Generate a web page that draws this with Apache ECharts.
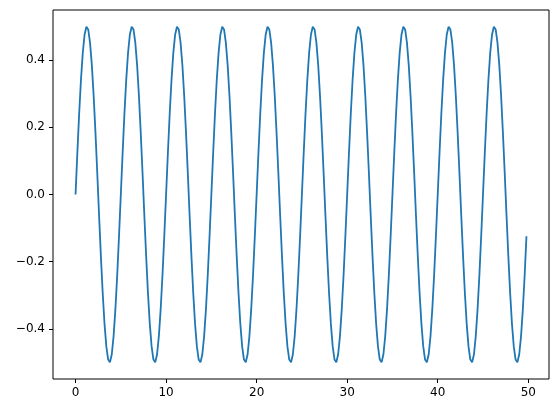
<!DOCTYPE html>
<html>
<head>
  <meta charset="utf-8">
  <title>sine</title>
  <script src="https://cdn.jsdelivr.net/npm/echarts@6/dist/echarts.min.js"></script>
  <style>
    html, body { margin: 0; padding: 0; background: #ffffff; }
    #chart { width: 559px; height: 413px; }
  </style>
</head>
<body>
<div id="chart"></div>
<script>
  // x positions (0 .. 49.8, step 0.2)
  var xs = [
    0, 0.2, 0.4, 0.6, 0.8, 1, 1.2, 1.4, 1.6, 1.8, 2, 2.2, 2.4, 2.6, 2.8, 3, 3.2, 3.4, 3.6, 3.8, 4, 4.2, 4.4, 4.6, 4.8,
    5, 5.2, 5.4, 5.6, 5.8, 6, 6.2, 6.4, 6.6, 6.8, 7, 7.2, 7.4, 7.6, 7.8, 8, 8.2, 8.4, 8.6, 8.8, 9, 9.2, 9.4, 9.6, 9.8,
    10, 10.2, 10.4, 10.6, 10.8, 11, 11.2, 11.4, 11.6, 11.8, 12, 12.2, 12.4, 12.6, 12.8, 13, 13.2, 13.4, 13.6, 13.8, 14, 14.2, 14.4, 14.6, 14.8,
    15, 15.2, 15.4, 15.6, 15.8, 16, 16.2, 16.4, 16.6, 16.8, 17, 17.2, 17.4, 17.6, 17.8, 18, 18.2, 18.4, 18.6, 18.8, 19, 19.2, 19.4, 19.6, 19.8,
    20, 20.2, 20.4, 20.6, 20.8, 21, 21.2, 21.4, 21.6, 21.8, 22, 22.2, 22.4, 22.6, 22.8, 23, 23.2, 23.4, 23.6, 23.8, 24, 24.2, 24.4, 24.6, 24.8,
    25, 25.2, 25.4, 25.6, 25.8, 26, 26.2, 26.4, 26.6, 26.8, 27, 27.2, 27.4, 27.6, 27.8, 28, 28.2, 28.4, 28.6, 28.8, 29, 29.2, 29.4, 29.6, 29.8,
    30, 30.2, 30.4, 30.6, 30.8, 31, 31.2, 31.4, 31.6, 31.8, 32, 32.2, 32.4, 32.6, 32.8, 33, 33.2, 33.4, 33.6, 33.8, 34, 34.2, 34.4, 34.6, 34.8,
    35, 35.2, 35.4, 35.6, 35.8, 36, 36.2, 36.4, 36.6, 36.8, 37, 37.2, 37.4, 37.6, 37.8, 38, 38.2, 38.4, 38.6, 38.8, 39, 39.2, 39.4, 39.6, 39.8,
    40, 40.2, 40.4, 40.6, 40.8, 41, 41.2, 41.4, 41.6, 41.8, 42, 42.2, 42.4, 42.6, 42.8, 43, 43.2, 43.4, 43.6, 43.8, 44, 44.2, 44.4, 44.6, 44.8,
    45, 45.2, 45.4, 45.6, 45.8, 46, 46.2, 46.4, 46.6, 46.8, 47, 47.2, 47.4, 47.6, 47.8, 48, 48.2, 48.4, 48.6, 48.8, 49, 49.2, 49.4, 49.6, 49.8
  ];

  // y values
  var ys = [
    0, 0.124, 0.241, 0.342, 0.422, 0.476, 0.499, 0.491, 0.452, 0.385, 0.294, 0.184, 0.063, -0.063, -0.184, -0.294, -0.385, -0.452, -0.491, -0.499, -0.476, -0.422, -0.342, -0.241, -0.124,
    0, 0.124, 0.241, 0.342, 0.422, 0.476, 0.499, 0.491, 0.452, 0.385, 0.294, 0.184, 0.063, -0.063, -0.184, -0.294, -0.385, -0.452, -0.491, -0.499, -0.476, -0.422, -0.342, -0.241, -0.124,
    0, 0.124, 0.241, 0.342, 0.422, 0.476, 0.499, 0.491, 0.452, 0.385, 0.294, 0.184, 0.063, -0.063, -0.184, -0.294, -0.385, -0.452, -0.491, -0.499, -0.476, -0.422, -0.342, -0.241, -0.124,
    0, 0.124, 0.241, 0.342, 0.422, 0.476, 0.499, 0.491, 0.452, 0.385, 0.294, 0.184, 0.063, -0.063, -0.184, -0.294, -0.385, -0.452, -0.491, -0.499, -0.476, -0.422, -0.342, -0.241, -0.124,
    0, 0.124, 0.241, 0.342, 0.422, 0.476, 0.499, 0.491, 0.452, 0.385, 0.294, 0.184, 0.063, -0.063, -0.184, -0.294, -0.385, -0.452, -0.491, -0.499, -0.476, -0.422, -0.342, -0.241, -0.124,
    0, 0.124, 0.241, 0.342, 0.422, 0.476, 0.499, 0.491, 0.452, 0.385, 0.294, 0.184, 0.063, -0.063, -0.184, -0.294, -0.385, -0.452, -0.491, -0.499, -0.476, -0.422, -0.342, -0.241, -0.124,
    0, 0.124, 0.241, 0.342, 0.422, 0.476, 0.499, 0.491, 0.452, 0.385, 0.294, 0.184, 0.063, -0.063, -0.184, -0.294, -0.385, -0.452, -0.491, -0.499, -0.476, -0.422, -0.342, -0.241, -0.124,
    0, 0.124, 0.241, 0.342, 0.422, 0.476, 0.499, 0.491, 0.452, 0.385, 0.294, 0.184, 0.063, -0.063, -0.184, -0.294, -0.385, -0.452, -0.491, -0.499, -0.476, -0.422, -0.342, -0.241, -0.124,
    0, 0.124, 0.241, 0.342, 0.422, 0.476, 0.499, 0.491, 0.452, 0.385, 0.294, 0.184, 0.063, -0.063, -0.184, -0.294, -0.385, -0.452, -0.491, -0.499, -0.476, -0.422, -0.342, -0.241, -0.124,
    0, 0.124, 0.241, 0.342, 0.422, 0.476, 0.499, 0.491, 0.452, 0.385, 0.294, 0.184, 0.063, -0.063, -0.184, -0.294, -0.385, -0.452, -0.491, -0.499, -0.476, -0.422, -0.342, -0.241, -0.124
  ];

  var xTicks = [0, 10, 20, 30, 40, 50];
  var yTicks = [-0.4, -0.2, 0.0, 0.2, 0.4];

  var points = xs.map(function (x, i) { return [x, ys[i]]; });

  var chart = echarts.init(document.getElementById('chart'), null, { renderer: 'canvas' });

  function minus(s) { return String(s).replace('-', '\u2212'); }

  chart.setOption({
    animation: false,
    grid: {
      left: 53, right: 10, top: 10, bottom: 34,
      show: true, borderColor: '#000', borderWidth: 1, backgroundColor: 'transparent'
    },
    xAxis: {
      type: 'value',
      min: -2.49, max: 52.29,
      axisLine: { show: false, onZero: false },
      splitLine: { show: false },
      axisTick: {
        show: true, length: 4, inside: false,
        customValues: xTicks,
        lineStyle: { color: '#000', width: 1 }
      },
      axisLabel: {
        customValues: xTicks,
        margin: 8,
        color: '#000',
        fontFamily: 'DejaVu Sans',
        fontSize: 12,
        formatter: function (v) { return minus(v); }
      }
    },
    yAxis: {
      type: 'value',
      min: -0.549, max: 0.549,
      axisLine: { show: false, onZero: false },
      splitLine: { show: false },
      axisTick: {
        show: true, length: 4, inside: false,
        customValues: yTicks,
        lineStyle: { color: '#000', width: 1 }
      },
      axisLabel: {
        customValues: yTicks,
        margin: 8,
        color: '#000',
        fontFamily: 'DejaVu Sans',
        fontSize: 12,
        formatter: function (v) { return minus(v.toFixed(1)); }
      }
    },
    series: [
      {
        type: 'line',
        data: points,
        showSymbol: false,
        symbol: 'none',
        lineStyle: { color: '#1f77b4', width: 1.8 },
        z: 3
      }
    ]
  });
</script>
</body>
</html>
